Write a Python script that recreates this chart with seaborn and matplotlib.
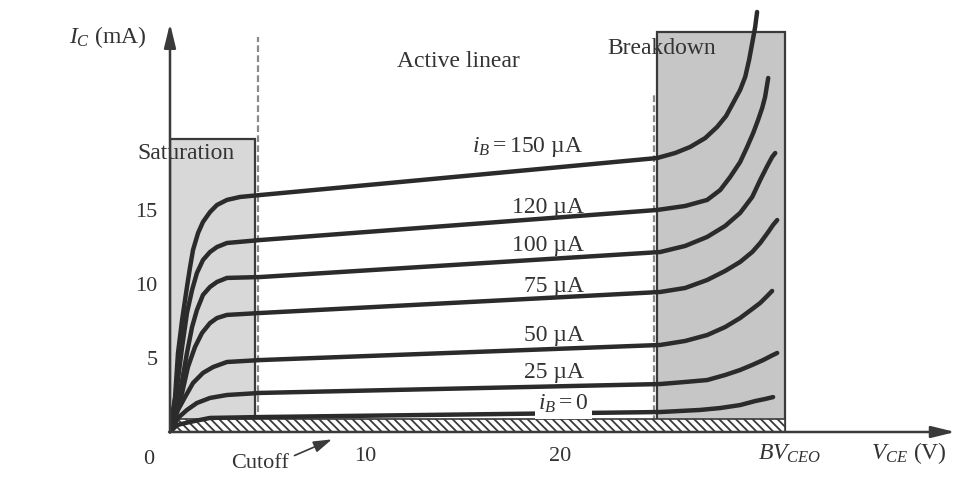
import numpy as np
import pandas as pd
import seaborn as sns
import matplotlib.pyplot as plt
from matplotlib.patches import Rectangle

# ---- BJT output characteristics: collector current vs collector-emitter voltage ----
vce_150 = [0, 0.26, 0.41, 0.62, 0.87, 1.03, 1.18, 1.44, 1.69, 2.05, 2.41, 2.92, 3.59, 4.62, 24.97,
           25.90, 26.67, 27.44, 28.05, 28.51, 28.87, 29.23, 29.49, 29.69, 29.85, 30.00, 30.10]
ic_150 = [0, 2.36, 5.34, 7.57, 9.80, 11.15, 12.30, 13.45, 14.19, 14.86, 15.34, 15.68, 15.88, 16.01, 18.51,
          18.85, 19.26, 19.86, 20.61, 21.35, 22.23, 23.11, 23.99, 25.14, 26.28, 27.36, 28.38]

vce_120 = [0, 0.36, 0.62, 0.87, 1.13, 1.38, 1.69, 2.05, 2.41, 2.92, 4.62, 24.97, 26.41, 27.54,
           28.21, 28.72, 29.23, 29.59, 29.90, 30.15, 30.36, 30.51, 30.67]
ic_120 = [0, 3.04, 5.74, 8.04, 9.59, 10.74, 11.62, 12.16, 12.50, 12.77, 12.97, 15.00, 15.27, 15.68,
          16.35, 17.23, 18.24, 19.26, 20.20, 21.08, 21.89, 22.64, 23.92]

vce_100 = [0, 0.51, 0.87, 1.13, 1.38, 1.69, 2.05, 2.41, 2.92, 4.62, 25.13, 26.41, 27.54, 28.46,
           29.23, 29.85, 30.26, 30.62, 30.87, 31.03]
ic_100 = [0, 2.64, 5.34, 7.09, 8.24, 9.26, 9.80, 10.14, 10.41, 10.47, 12.16, 12.57, 13.18, 13.92,
          14.80, 15.88, 17.03, 17.97, 18.58, 18.85]

vce_75 = [0, 0.62, 0.92, 1.28, 1.64, 2.05, 2.41, 2.92, 4.62, 25.13, 26.41, 27.54, 28.46, 29.23,
          29.85, 30.26, 30.67, 30.92, 31.13]
ic_75 = [0, 2.64, 4.39, 5.74, 6.69, 7.36, 7.70, 7.91, 8.04, 9.46, 9.73, 10.27, 10.88, 11.49,
         12.16, 12.77, 13.51, 13.99, 14.32]

vce_50 = [0, 0.41, 0.77, 1.18, 1.69, 2.21, 2.92, 4.62, 25.13, 26.41, 27.54, 28.46, 29.23, 29.85,
          30.26, 30.62, 30.87]
ic_50 = [0, 1.49, 2.36, 3.31, 3.99, 4.39, 4.73, 4.86, 5.88, 6.15, 6.55, 7.09, 7.70, 8.31,
         8.72, 9.19, 9.53]

vce_25 = [0, 0.41, 0.87, 1.38, 2.05, 2.92, 4.62, 25.13, 26.41, 27.54, 28.46, 29.23, 29.85, 30.41,
          30.82, 31.13]
ic_25 = [0, 0.95, 1.49, 1.96, 2.30, 2.50, 2.64, 3.24, 3.38, 3.51, 3.85, 4.19, 4.53, 4.86,
         5.14, 5.34]

vce_0 = [0, 0.36, 1.03, 2.05, 4.62, 25.13, 27.18, 28.21, 29.23, 30.0, 30.51, 30.92]
ic_0 = [0, 0.47, 0.68, 0.95, 1.01, 1.35, 1.49, 1.62, 1.82, 2.09, 2.23, 2.36]

curve_labels = ["$i_B = 150$ µA", "120 µA", "100 µA", "75 µA", "50 µA", "25 µA", "$i_B = 0$"]
y_ticks = [5, 10, 15]
x_ticks = [10, 20]

# operating regions (V, mA)
sat_edge = 4.36
sat_top = 19.8
bd_left, bd_right, bd_top = 24.97, 31.54, 27.0
cutoff_top = 0.88

curves = {
    "150": (vce_150, ic_150), "120": (vce_120, ic_120), "100": (vce_100, ic_100),
    "75": (vce_75, ic_75), "50": (vce_50, ic_50), "25": (vce_25, ic_25), "0": (vce_0, ic_0),
}
df = pd.concat(
    [pd.DataFrame({"VCE": v, "IC": i, "iB": k}) for k, (v, i) in curves.items()],
    ignore_index=True,
)

sns.set_theme(style="white")
plt.rcParams["font.family"] = ["Liberation Serif", "DejaVu Serif"]
plt.rcParams["mathtext.fontset"] = "custom"
plt.rcParams["mathtext.rm"] = "Liberation Serif"
plt.rcParams["mathtext.it"] = "Liberation Serif:italic"
plt.rcParams["hatch.linewidth"] = 1.3
plt.rcParams["hatch.color"] = "#6e6e6e"

W, H = 961, 478
fig = plt.figure(figsize=(W / 100, H / 100), dpi=100)
ax = fig.add_axes([170 / W, 46 / H, 788 / W, 427 / H])
ax.set_xlim(0, 40.4)
ax.set_ylim(0, 28.85)

ink = "#2b2b2b"
edge = "#3a3a3a"

# shaded regions
ax.add_patch(Rectangle((0, 0), sat_edge, sat_top, facecolor="#d8d8d8",
                       edgecolor=edge, lw=1.6, zorder=1))
ax.add_patch(Rectangle((bd_left, 0), bd_right - bd_left, bd_top, facecolor="#c6c6c6",
                       edgecolor=edge, lw=1.6, zorder=1))
ax.add_patch(Rectangle((0, 0), bd_right, cutoff_top, facecolor="white",
                       edgecolor=edge, lw=1.2, hatch="\\\\\\\\", zorder=2))

# region boundaries
ax.plot([sat_edge + 0.15, sat_edge + 0.15], [0, 26.7], ls=(0, (3, 1.5)), color="#8a8a8a", lw=1.6, zorder=1.5)
ax.plot([bd_left - 0.15, bd_left - 0.15], [0, 22.9], ls=(0, (3, 1.5)), color="#8a8a8a", lw=1.6, zorder=1.5)

# characteristic curves
sns.lineplot(data=df, x="VCE", y="IC", units="iB", estimator=None, sort=False,
             color=ink, linewidth=3.2, solid_capstyle="round", solid_joinstyle="round",
             legend=False, ax=ax, zorder=3)

# axes with arrows
for s in ax.spines.values():
    s.set_visible(False)
arrow = dict(arrowstyle="-|>,head_length=0.9,head_width=0.22", color=edge, lw=1.8,
             mutation_scale=16, shrinkA=0, shrinkB=0)
ax.annotate("", xy=(0, 27.6), xytext=(0, -0.05), arrowprops=arrow, annotation_clip=False, zorder=5)
ax.annotate("", xy=(40.26, 0), xytext=(-0.05, 0), arrowprops=arrow, annotation_clip=False, zorder=5)

ax.set_yticks(y_ticks)
ax.set_yticklabels([str(t) for t in y_ticks])
ax.set_xticks(x_ticks)
ax.set_xticklabels([str(t) for t in x_ticks])
ax.tick_params(axis="y", direction="in", length=7, width=1.4, color=edge, pad=9,
               labelsize=16, labelcolor="#333333", left=True)
ax.tick_params(axis="x", length=0, pad=11, labelsize=16, labelcolor="#333333", bottom=True)
ax.set_xlabel("")
ax.set_ylabel("")

txt = dict(fontsize=17, color="#333333")
ax.text(0.82, 18.85, "Saturation", ha="center", va="center", zorder=4, clip_on=False, **txt)
ax.text(14.8, 25.0, "Active linear", ha="center", va="center", zorder=4, **txt)
ax.text(25.2, 25.9, "Breakdown", ha="center", va="center", zorder=4, **txt)

label_pos = [(21.2, 19.26), (21.2, 15.2), (21.2, 12.6), (21.2, 9.8), (21.2, 6.55), (21.2, 4.0)]
for lab, (x, y) in zip(curve_labels[:-1], label_pos):
    ax.text(x, y, lab, ha="right", va="center", zorder=4, **txt)
ax.text(21.45, 1.9, curve_labels[-1], ha="right", va="center", zorder=4,
        bbox=dict(facecolor="white", edgecolor="none", pad=2.5), **txt)

ax.text(-1.2, 26.7, "$I_C$ (mA)", ha="right", va="center", clip_on=False, **txt)
ax.text(-1.1, -1.85, "0", ha="center", va="center", clip_on=False, fontsize=16, color="#333333")
ax.text(31.8, -1.45, "$BV_{CEO}$", ha="center", va="center", clip_on=False, **txt)
ax.text(37.9, -1.45, "$V_{CE}$ (V)", ha="center", va="center", clip_on=False, **txt)

ax.annotate("Cutoff", xy=(8.3, -0.5), xytext=(4.6, -2.45), ha="center", va="baseline",
            annotation_clip=False, fontsize=16, color="#333333",
            arrowprops=dict(arrowstyle="-|>,head_length=0.8,head_width=0.25", color=edge,
                            lw=1.2, mutation_scale=14, shrinkA=2, shrinkB=0,
                            relpos=(1.0, 0.8)))

fig.savefig("out.png", dpi=100)
